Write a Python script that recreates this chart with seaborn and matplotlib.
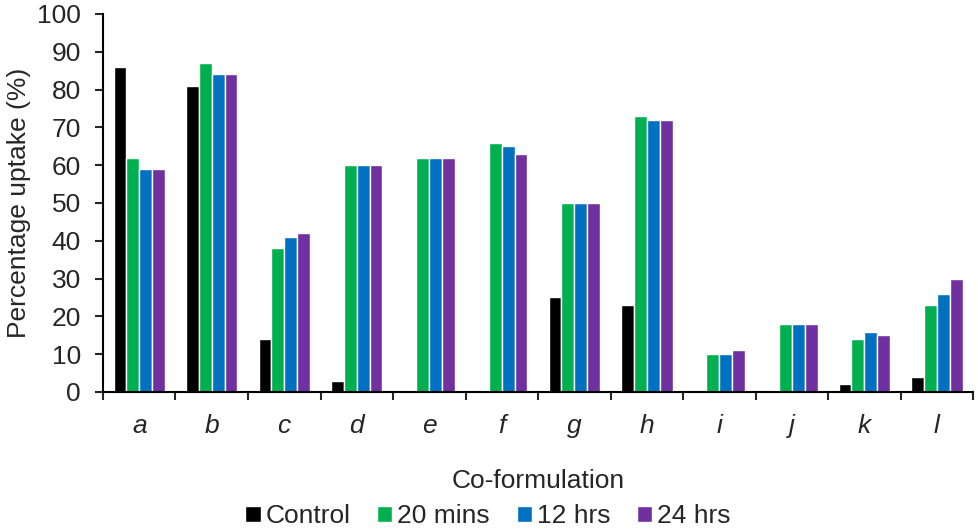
import pandas as pd
import matplotlib.pyplot as plt
import seaborn as sns
import numpy as np
from matplotlib.ticker import FixedLocator

# Data
formulations = ['a', 'b', 'c', 'd', 'e', 'f', 'g', 'h', 'i', 'j', 'k', 'l']
series_names = ['Control', '20 mins', '12 hrs', '24 hrs']
control = [86, 81, 14, 3, 0, 0, 25, 23, 0, 0, 2, 4]
mins_20 = [62, 87, 38, 60, 62, 66, 50, 73, 10, 18, 14, 23]
hrs_12 = [59, 84, 41, 60, 62, 65, 50, 72, 10, 18, 16, 26]
hrs_24 = [59, 84, 42, 60, 62, 63, 50, 72, 11, 18, 15, 30]

colors = ['#000000', '#00B050', '#0070C0', '#7030A0']

rows = []
for name, vals in zip(series_names, [control, mins_20, hrs_12, hrs_24]):
    for f, v in zip(formulations, vals):
        rows.append({'Co-formulation': f, 'Time': name, 'Uptake': v})
df = pd.DataFrame(rows)

sns.set_style('white')
plt.rcParams['font.family'] = ['Liberation Sans', 'DejaVu Sans']
fs = 19

fig = plt.figure(figsize=(9.79, 5.30), dpi=100)
ax = fig.add_axes([0.1052, 0.2604, 0.8887, 0.7132])

sns.barplot(data=df, x='Co-formulation', y='Uptake', hue='Time',
            hue_order=series_names, order=formulations, palette=colors,
            width=0.71, edgecolor='white', linewidth=1.0, saturation=1,
            ax=ax)

ax.set_ylim(0, 100)
ax.set_xlim(-0.5, len(formulations) - 0.5)
ax.set_yticks(np.arange(0, 101, 10))
ax.tick_params(axis='y', which='major', direction='out', length=6, width=1.5,
               labelsize=fs, left=True, pad=10)
ax.tick_params(axis='x', which='major', length=0, labelsize=fs, pad=16)
ax.xaxis.set_minor_locator(FixedLocator(np.arange(-0.5, len(formulations), 1.0)))
ax.tick_params(axis='x', which='minor', direction='out', length=6, width=1.5,
               bottom=True)
for lbl in ax.get_xticklabels():
    lbl.set_fontstyle('italic')

for side in ['top', 'right']:
    ax.spines[side].set_visible(False)
for side in ['left', 'bottom']:
    ax.spines[side].set_linewidth(1.5)
    ax.spines[side].set_color('black')

ax.set_ylabel('Percentage uptake (%)', fontsize=fs, labelpad=4)
ax.set_xlabel('Co-formulation', fontsize=fs, labelpad=22)

handles, labels = ax.get_legend_handles_labels()
ax.get_legend().remove()
fig.legend(handles, labels, loc='center', bbox_to_anchor=(488 / 979, 1 - 516 / 530),
           ncol=4, frameon=False, fontsize=fs, handlelength=0.57,
           handleheight=0.57, handletextpad=0.2, columnspacing=1.0,
           borderaxespad=0, borderpad=0)

fig.savefig('out.png', dpi=100)
